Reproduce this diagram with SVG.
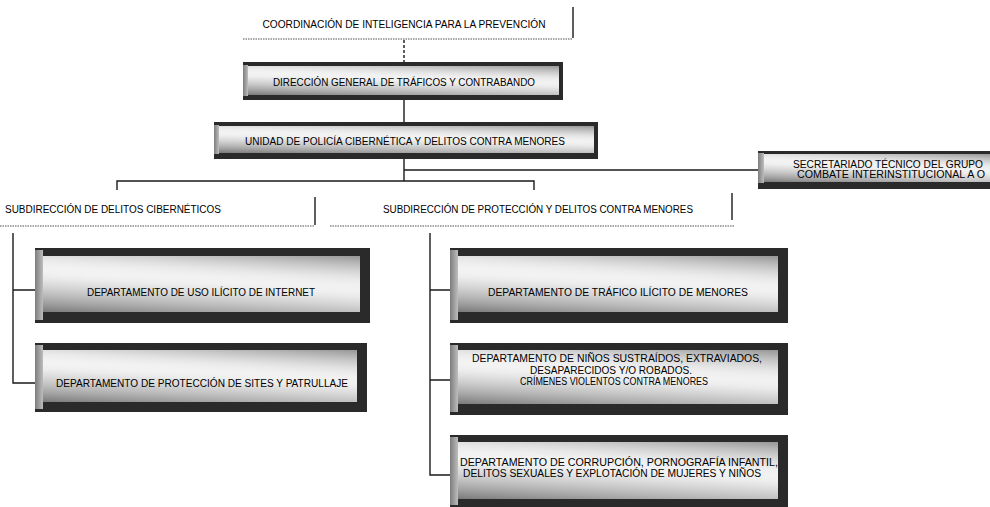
<svg xmlns="http://www.w3.org/2000/svg" width="990" height="507" viewBox="0 0 990 507">
<style>
.t{font-family:"Liberation Sans",Arial,sans-serif;font-size:10px;fill:#000;text-anchor:middle}
.ln{stroke:#1a1a1a;stroke-width:1.4;fill:none}
.dot{stroke:#8a8a8a;stroke-width:1.3;stroke-dasharray:1.5 1;fill:none}
.frame{fill:#2a2a2a}
.bev{fill:url(#bev)}
.face{fill:#ffffff}
.tex{fill:url(#tex)}
.tex2{fill:url(#tex2)}
</style>
<defs>
<linearGradient id="bev" x1="0" y1="0" x2="1" y2="0">
<stop offset="0" stop-color="#7d7d7d"/>
<stop offset="1" stop-color="#bdbdbd"/>
</linearGradient>
<linearGradient id="tex" x1="0" y1="1" x2="0.3" y2="0.1">
<stop offset="0" stop-color="#7a7a7a" stop-opacity="1"/>
<stop offset="0.4" stop-color="#aaaaaa" stop-opacity="0.6"/>
<stop offset="1" stop-color="#ffffff" stop-opacity="0"/>
</linearGradient>
<linearGradient id="tex2" x1="1" y1="0" x2="0.75" y2="0.7">
<stop offset="0" stop-color="#8a8a8a" stop-opacity="0.9"/>
<stop offset="0.5" stop-color="#c0c0c0" stop-opacity="0.4"/>
<stop offset="1" stop-color="#ffffff" stop-opacity="0"/>
</linearGradient>
</defs>

<g id="connectors">
<line class="dot" x1="243" y1="39" x2="573" y2="39"/>
<path class="ln" d="M573,7 V38"/>
<path class="ln" d="M404,40 V62" stroke-dasharray="3 2"/>
<path class="ln" d="M404,100 V122"/>
<path class="ln" d="M404,159 V181"/>
<path class="ln" d="M404,170 H758"/>
<path class="ln" d="M117,190 V181 H534 V190"/>
<line class="dot" x1="0" y1="226" x2="315" y2="226"/>
<path class="ln" d="M315,197 V225"/>
<line class="dot" x1="330" y1="226" x2="735" y2="226"/>
<path class="ln" d="M732,193 V220"/>
<path class="ln" d="M13,233 V383 H35 M13,290 H35"/>
<path class="ln" d="M430,233 V475 H450 M430,290 H450 M430,380 H450"/>
</g>

<g id="coordinacion">
<text class="t" x="404" y="28" textLength="283" lengthAdjust="spacingAndGlyphs">COORDINACIÓN DE INTELIGENCIA PARA LA PREVENCIÓN</text>
</g>

<g id="direccion-general">
<rect class="frame" x="243" y="62" width="320" height="38"/>
<rect class="bev" x="243" y="65" width="5" height="31"/>
<rect class="face" x="248" y="66" width="311" height="29"/>
<rect class="tex" x="248" y="66" width="311" height="29"/>
<rect class="tex2" x="248" y="66" width="311" height="29"/>
<text class="t" x="404" y="86" textLength="262" lengthAdjust="spacingAndGlyphs">DIRECCIÓN GENERAL DE TRÁFICOS Y CONTRABANDO</text>
</g>

<g id="unidad-policia">
<rect class="frame" x="214" y="122" width="384" height="37"/>
<rect class="bev" x="214" y="125" width="5" height="29"/>
<rect class="face" x="219" y="126" width="375" height="27"/>
<rect class="tex" x="219" y="126" width="375" height="27"/>
<rect class="tex2" x="219" y="126" width="375" height="27"/>
<text class="t" x="405" y="145" textLength="320" lengthAdjust="spacingAndGlyphs">UNIDAD DE POLICÍA CIBERNÉTICA Y DELITOS CONTRA MENORES</text>
</g>

<g id="secretariado">
<rect class="frame" x="758" y="151" width="232" height="38"/>
<rect class="bev" x="758" y="153" width="6" height="30"/>
<rect class="face" x="764" y="154" width="226" height="28"/>
<rect class="tex" x="764" y="154" width="226" height="28"/>
<rect class="tex2" x="764" y="154" width="226" height="28"/>
<text class="t" x="888" y="168" textLength="190" lengthAdjust="spacingAndGlyphs">SECRETARIADO TÉCNICO DEL GRUPO</text>
<text class="t" x="891" y="178" textLength="188" lengthAdjust="spacingAndGlyphs">COMBATE INTERINSTITUCIONAL A O</text>
</g>

<g id="subdir-delitos-ciberneticos">
<text class="t" x="113" y="213" textLength="216" lengthAdjust="spacingAndGlyphs">SUBDIRECCIÓN DE DELITOS CIBERNÉTICOS</text>
</g>

<g id="subdir-proteccion">
<text class="t" x="538" y="213" textLength="310" lengthAdjust="spacingAndGlyphs">SUBDIRECCIÓN DE PROTECCIÓN Y DELITOS CONTRA MENORES</text>
</g>

<g id="depto-uso-ilicito">
<rect class="frame" x="35" y="248" width="335" height="75"/>
<rect class="bev" x="35" y="250" width="8" height="70"/>
<rect class="face" x="43" y="256" width="317" height="56"/>
<rect class="tex" x="43" y="256" width="317" height="56"/>
<rect class="tex2" x="43" y="256" width="317" height="56"/>
<text class="t" x="201" y="296" textLength="228" lengthAdjust="spacingAndGlyphs">DEPARTAMENTO DE USO ILÍCITO DE INTERNET</text>
</g>

<g id="depto-proteccion-sites">
<rect class="frame" x="35" y="343" width="332" height="69"/>
<rect class="bev" x="35" y="345" width="8" height="64"/>
<rect class="face" x="43" y="350" width="314" height="52"/>
<rect class="tex" x="43" y="350" width="314" height="52"/>
<rect class="tex2" x="43" y="350" width="314" height="52"/>
<text class="t" x="202" y="387" textLength="292" lengthAdjust="spacingAndGlyphs">DEPARTAMENTO DE PROTECCIÓN DE SITES Y PATRULLAJE</text>
</g>

<g id="depto-trafico-ilicito">
<rect class="frame" x="450" y="248" width="338" height="75"/>
<rect class="bev" x="450" y="250" width="8" height="70"/>
<rect class="face" x="458" y="256" width="320" height="56"/>
<rect class="tex" x="458" y="256" width="320" height="56"/>
<rect class="tex2" x="458" y="256" width="320" height="56"/>
<text class="t" x="618" y="296" textLength="260" lengthAdjust="spacingAndGlyphs">DEPARTAMENTO DE TRÁFICO ILÍCITO DE MENORES</text>
</g>

<g id="depto-ninos-sustraidos">
<rect class="frame" x="450" y="343" width="338" height="72"/>
<rect class="bev" x="450" y="345" width="8" height="67"/>
<rect class="face" x="458" y="350" width="320" height="54"/>
<rect class="tex" x="458" y="350" width="320" height="54"/>
<rect class="tex2" x="458" y="350" width="320" height="54"/>
<text class="t" x="617" y="362" textLength="290" lengthAdjust="spacingAndGlyphs">DEPARTAMENTO DE NIÑOS SUSTRAÍDOS, EXTRAVIADOS,</text>
<text class="t" x="611" y="374" textLength="162" lengthAdjust="spacingAndGlyphs">DESAPARECIDOS Y/O ROBADOS.</text>
<text class="t" x="614" y="385" textLength="188" lengthAdjust="spacingAndGlyphs">CRÍMENES VIOLENTOS CONTRA MENORES</text>
</g>

<g id="depto-corrupcion">
<rect class="frame" x="450" y="435" width="338" height="72"/>
<rect class="bev" x="450" y="437" width="8" height="68"/>
<rect class="face" x="458" y="442" width="320" height="57"/>
<rect class="tex" x="458" y="442" width="320" height="57"/>
<rect class="tex2" x="458" y="442" width="320" height="57"/>
<text class="t" x="619" y="466" textLength="318" lengthAdjust="spacingAndGlyphs">DEPARTAMENTO DE CORRUPCIÓN, PORNOGRAFÍA INFANTIL,</text>
<text class="t" x="612" y="477" textLength="298" lengthAdjust="spacingAndGlyphs">DELITOS SEXUALES Y EXPLOTACIÓN DE MUJERES Y NIÑOS</text>
</g>
</svg>
